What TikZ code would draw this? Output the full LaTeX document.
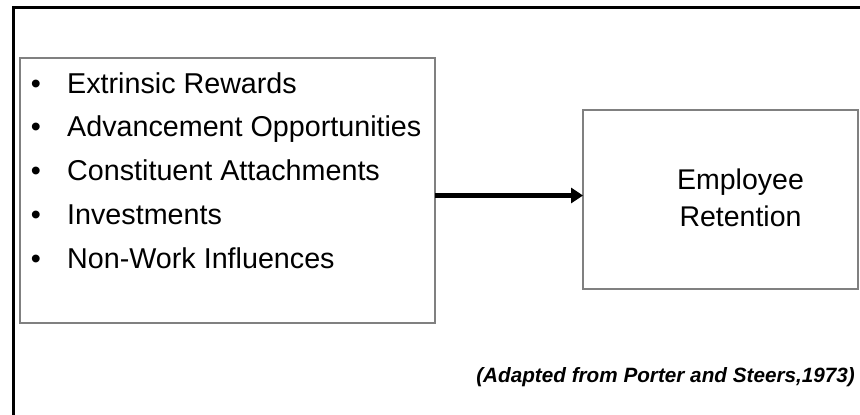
\documentclass[tikz,border=0pt]{standalone}
\usepackage{fontspec}
\setmainfont{Liberation Sans}
\usetikzlibrary{arrows.meta}

\begin{document}
\begin{tikzpicture}[x=1pt, y=-1pt,
    box/.style={draw=gray, line width=1.5pt, inner sep=0pt, outer sep=0pt},
    item/.style={anchor=base west, inner sep=0pt, font=\fontsize{28.7}{34}\selectfont},
    dot/.style={anchor=base, inner sep=0pt, font=\fontsize{28.7}{34}\selectfont},
    flow/.style={line width=5pt, -{Triangle[length=12pt, width=15pt]}}]

    \useasboundingbox (0,0) rectangle (860,415);

    % Cornice esterna (solo lati sinistro e superiore)
    \draw[line width=3pt] (13.5,415) -- (13.5,7.5) -- (860,7.5);

    % Riquadro dei fattori
    \node[box, minimum width=415pt, minimum height=265pt] (factors) at (227.5,190.5) {};
    \foreach \txt [count=\i from 0] in {Extrinsic Rewards, Advancement Opportunities,
        Constituent Attachments, Investments, Non-Work Influences}
    {
        \node[dot] (bullet\i) at (36, 93+43.75*\i) {•};
        \node[item] (item\i) at (67, 93+43.75*\i) {\txt};
    }

    % Riquadro del risultato
    \node[box, minimum width=275pt, minimum height=179pt] (retention) at (720.5,199.5) {};
    \node[align=center, inner sep=0pt, font=\fontsize{28.5}{37}\selectfont] (retentiontext)
        at (740.5,197.5) {Employee\\Retention};

    % Freccia
    \draw[flow] ([yshift=-5pt]factors.east) -- ([yshift=-5pt]factors.east -| retention.west);

    % Fonte
    \node[anchor=base east, inner sep=0pt, font=\fontsize{20.7}{24}\selectfont\bfseries\itshape]
        (source) at (855,382) {(Adapted from Porter and Steers,1973)};

\end{tikzpicture}
\end{document}
